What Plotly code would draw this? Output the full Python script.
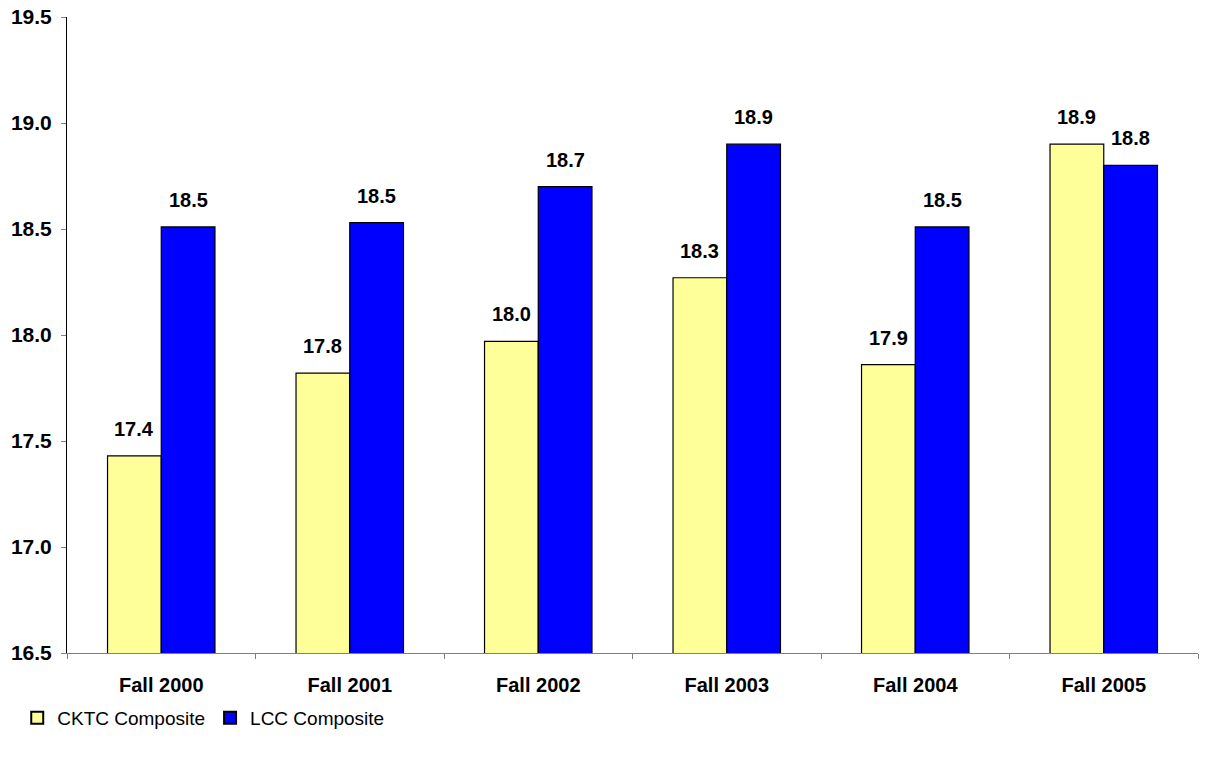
import plotly.graph_objects as go

categories = ["Fall 2000", "Fall 2001", "Fall 2002", "Fall 2003", "Fall 2004", "Fall 2005"]
ckt_values = [17.43, 17.82, 17.97, 18.27, 17.86, 18.90]
lcc_values = [18.51, 18.53, 18.70, 18.90, 18.51, 18.80]
series_names = ["CKTC Composite", "LCC Composite"]
y_ticks = [16.5, 17.0, 17.5, 18.0, 18.5, 19.0, 19.5]

FONT = "Liberation Sans, Arial, sans-serif"

fig = go.Figure()
fig.add_trace(go.Bar(x=categories, y=ckt_values, name=series_names[0],
                     marker=dict(color="#FFFF99", line=dict(color="black", width=1.2))))
fig.add_trace(go.Bar(x=categories, y=lcc_values, name=series_names[1],
                     marker=dict(color="#0000FF", line=dict(color="black", width=1.2))))

annotations = []
bar_px = 54
for cat, a, b in zip(categories, ckt_values, lcc_values):
    for val, xs in ((a, -bar_px / 2), (b, bar_px / 2)):
        annotations.append(dict(x=cat, y=val, text=f"<b>{val:.1f}</b>", showarrow=False,
                                xshift=xs, yshift=27, yanchor="middle",
                                font=dict(family=FONT, size=20, color="black")))

fig.update_layout(
    width=1210, height=759,
    margin=dict(l=67, r=12, t=17, b=106, autoexpand=False),
    paper_bgcolor="white", plot_bgcolor="white",
    barmode="group", bargap=0.43, bargroupgap=0,
    font=dict(family=FONT, size=16, color="black"),
    showlegend=True,
    legend=dict(orientation="h", x=-0.044, y=-0.102, xanchor="left", yanchor="middle",
                font=dict(family=FONT, size=19, color="black"),
                itemwidth=30, tracegroupgap=0, itemsizing="constant"),
    annotations=annotations,
)
fig.update_xaxes(showline=True, linecolor="#808080", linewidth=1,
                 ticks="outside", ticklen=5, tickcolor="#808080",
                 tickson="boundaries", showgrid=False, automargin=False,
                 tickfont=dict(family=FONT, size=20, color="black"),
                 tickprefix="<b>", ticksuffix="</b>", ticklabelstandoff=14,
                 ticklabeloverflow="allow")
fig.update_yaxes(range=[16.5, 19.5], tickvals=y_ticks,
                 ticktext=[f"<b>{v:.1f}</b>" for v in y_ticks],
                 showline=True, linecolor="black", linewidth=1,
                 ticks="outside", ticklen=5, tickcolor="#808080",
                 showgrid=False, zeroline=False, automargin=False,
                 ticklabelstandoff=5, ticklabeloverflow="allow",
                 tickfont=dict(family=FONT, size=21, color="black"))

fig.write_html("out.html", config={"displayModeBar": False},
               post_script="document.body.style.margin='0';document.body.style.padding='0';")
